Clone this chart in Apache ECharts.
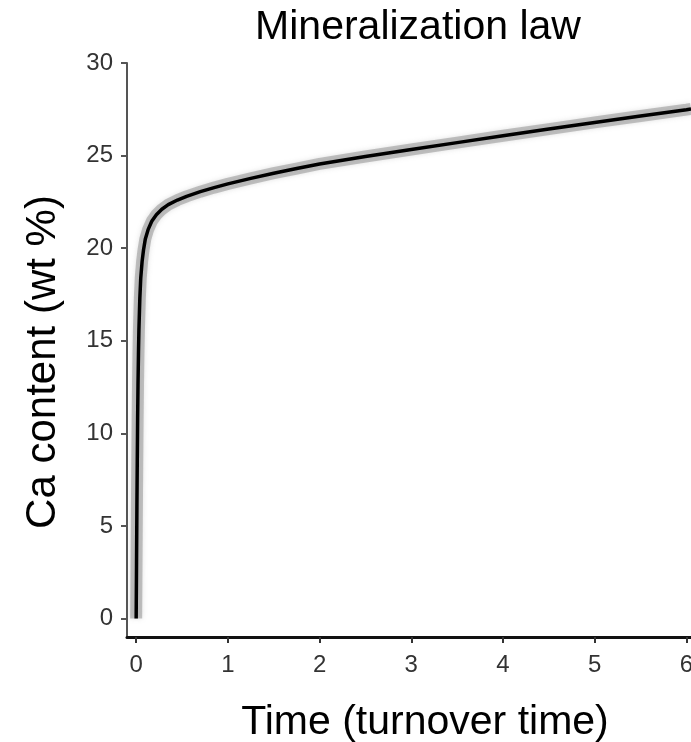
<!DOCTYPE html>
<html>
<head>
<meta charset="utf-8">
<title>Mineralization law</title>
<script src="https://cdn.jsdelivr.net/npm/echarts@6/dist/echarts.min.js"></script>
<style>
  html, body { margin: 0; padding: 0; background: #ffffff; }
  #chart { width: 691px; height: 742px; }
</style>
</head>
<body>
<div id="chart"></div>
<script>
// Time since deposition, in turnover times
const timeValues = [0, 0.004, 0.008, 0.012, 0.016, 0.02, 0.025, 0.03, 0.04, 0.05,
  0.065, 0.08, 0.1, 0.13, 0.17, 0.22, 0.28, 0.35, 0.45, 0.55, 0.7, 0.85, 1, 1.25, 1.5,
  1.75, 2, 2.5, 3, 3.5, 4, 4.5, 5, 5.5, 6, 6.05];
// Calcium content of the tissue, wt %
const caValues = [0, 3, 6, 8.5, 10.8, 12.6, 14.3, 15.6, 17.3, 18.4,
  19.3, 19.9, 20.5, 21.0, 21.45, 21.8, 22.1, 22.35, 22.6, 22.8, 23.05, 23.27, 23.47, 23.77, 24.05,
  24.3, 24.55, 24.95, 25.33, 25.7, 26.07, 26.43, 26.79, 27.14, 27.48, 27.52];

const xTicks = [0, 1, 2, 3, 4, 5, 6];
const yTicks = [0, 5, 10, 15, 20, 25, 30];

const points = timeValues.map((t, i) => [t, caValues[i]]);

const chart = echarts.init(document.getElementById('chart'), null, { renderer: 'canvas' });

const font = 'Liberation Sans, Arial, Helvetica, sans-serif';

chart.setOption({
  animation: false,
  backgroundColor: '#ffffff',
  title: {
    text: 'Mineralization law',
    left: 413,
    top: 2,
    textAlign: 'center',
    textStyle: { fontFamily: font, fontSize: 41, fontWeight: 'normal', color: '#000' }
  },
  grid: { left: 127, right: 0, top: 63, bottom: 105, containLabel: false, outerBoundsMode: 'none' },
  xAxis: {
    type: 'value',
    min: -0.1,
    max: 6.05,
    name: 'Time (turnover time)',
    nameLocation: 'middle',
    nameGap: 65,
    nameTextStyle: { fontFamily: font, fontSize: 41, color: '#000', padding: [0, 0, 0, 32] },
    axisLine: { show: true, onZero: false, lineStyle: { color: '#111', width: 3 } },
    axisTick: { show: true, customValues: xTicks, length: 6, lineStyle: { color: '#333', width: 2 } },
    axisLabel: { customValues: xTicks, fontFamily: font, fontSize: 24, color: '#333', margin: 16 },
    splitLine: { show: false }
  },
  yAxis: {
    type: 'value',
    min: -1,
    max: 30,
    name: 'Ca content (wt %)',
    nameLocation: 'middle',
    nameRotate: 90,
    nameGap: 63,
    nameTextStyle: { fontFamily: font, fontSize: 42, color: '#000', padding: [0, 24, 0, 0] },
    axisLine: { show: true, onZero: false, lineStyle: { color: '#555', width: 2 } },
    axisTick: { show: true, customValues: yTicks, length: 6, lineStyle: { color: '#555', width: 2 } },
    axisLabel: { customValues: yTicks, fontFamily: font, fontSize: 24, color: '#333', margin: 14 },
    splitLine: { show: false }
  },
  series: [
    {
      // soft grey envelope around the fitted curve
      type: 'line',
      data: points,
      showSymbol: false,
      smooth: false,
      lineStyle: { color: 'rgba(140,140,140,0.5)', width: 12, join: 'round', shadowBlur: 5, shadowColor: 'rgba(140,140,140,0.5)' },
      z: 1
    },
    {
      type: 'line',
      data: points,
      showSymbol: false,
      smooth: false,
      lineStyle: { color: '#000', width: 3.5, join: 'round' },
      z: 2
    }
  ]
});
</script>
</body>
</html>
